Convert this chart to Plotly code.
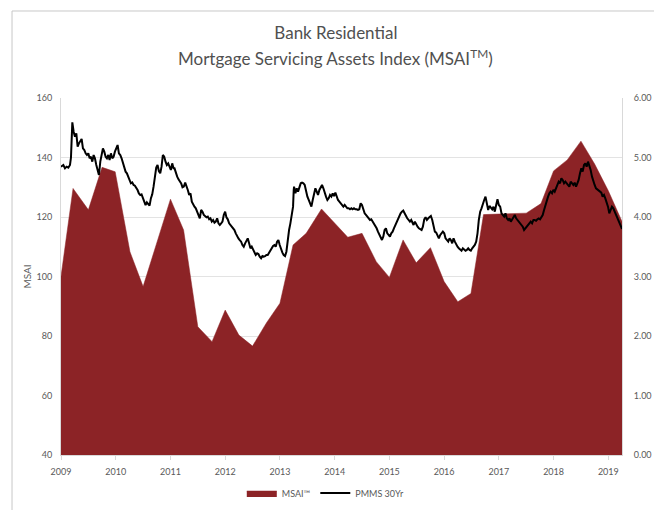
import plotly.graph_objects as go

# MSAI (left axis), x as decimal year
msai_x = [2009.00, 2009.22, 2009.50, 2009.75, 2009.99, 2010.26, 2010.50, 2010.75, 2011.00,
          2011.24, 2011.50, 2011.76, 2012.00, 2012.25, 2012.50, 2012.75, 2013.00, 2013.24,
          2013.48, 2013.76, 2014.00, 2014.24, 2014.50, 2014.76, 2015.00, 2015.25, 2015.49,
          2015.75, 2016.00, 2016.25, 2016.49, 2016.72, 2017.00, 2017.50, 2017.77, 2018.00,
          2018.25, 2018.50, 2018.75, 2019.00, 2019.25]
msai_y = [100.0, 129.6, 122.4, 136.7, 135.2, 108.3, 96.6, 111.5, 126.0,
          115.6, 83.1, 78.1, 88.7, 80.3, 76.6, 84.3, 91.0, 110.6,
          114.5, 122.7, 117.9, 113.2, 114.5, 105.0, 99.7, 112.3, 104.6,
          109.7, 98.3, 91.5, 94.3, 120.8, 121.0, 121.3, 124.5, 135.5,
          139.2, 145.5, 137.8, 128.8, 118.5]

# PMMS 30Yr (right axis)
pmms_x = [2009.000, 2009.043, 2009.073, 2009.103, 2009.134, 2009.164, 2009.182, 2009.207, 2009.231,
          2009.255, 2009.280, 2009.304, 2009.328, 2009.353, 2009.377, 2009.401, 2009.426, 2009.450,
          2009.474, 2009.499, 2009.523, 2009.547, 2009.572, 2009.596, 2009.620, 2009.645, 2009.669,
          2009.693, 2009.718, 2009.742, 2009.766, 2009.791, 2009.815, 2009.839, 2009.864, 2009.888,
          2009.912, 2009.937, 2009.961, 2009.985, 2010.010, 2010.034, 2010.058, 2010.083, 2010.107,
          2010.131, 2010.156, 2010.180, 2010.204, 2010.229, 2010.253, 2010.277, 2010.302, 2010.326,
          2010.350, 2010.375, 2010.399, 2010.423, 2010.448, 2010.472, 2010.496, 2010.521, 2010.545,
          2010.569, 2010.594, 2010.618, 2010.642, 2010.667, 2010.691, 2010.715, 2010.740, 2010.764,
          2010.788, 2010.813, 2010.837, 2010.861, 2010.886, 2010.910, 2010.934, 2010.959, 2010.983,
          2011.007, 2011.032, 2011.056,
          2011.074, 2011.099, 2011.123, 2011.147, 2011.171, 2011.196, 2011.220, 2011.244, 2011.269,
          2011.293, 2011.317, 2011.342, 2011.366, 2011.390, 2011.415, 2011.439, 2011.463, 2011.488,
          2011.512, 2011.536, 2011.561, 2011.585, 2011.609, 2011.634, 2011.658, 2011.682, 2011.707,
          2011.731, 2011.755, 2011.780, 2011.804, 2011.828, 2011.853, 2011.877, 2011.901, 2011.926,
          2011.950, 2011.974, 2011.999, 2012.023, 2012.047, 2012.072, 2012.096, 2012.120, 2012.145,
          2012.169, 2012.193, 2012.218, 2012.242, 2012.266, 2012.291, 2012.315, 2012.339, 2012.364,
          2012.388, 2012.412, 2012.437, 2012.461, 2012.485, 2012.510, 2012.534, 2012.558, 2012.583,
          2012.607, 2012.631, 2012.656, 2012.680, 2012.704, 2012.729, 2012.753, 2012.777, 2012.802,
          2012.826, 2012.850, 2012.875, 2012.899, 2012.923, 2012.948, 2012.972, 2012.996, 2013.021,
          2013.045, 2013.069, 2013.094, 2013.118, 2013.142, 2013.167, 2013.191, 2013.215, 2013.240,
          2013.252,
          2013.258, 2013.283, 2013.307, 2013.331, 2013.356, 2013.380, 2013.404, 2013.429, 2013.453,
          2013.477, 2013.502, 2013.526, 2013.550, 2013.575, 2013.599, 2013.623, 2013.648, 2013.672,
          2013.696, 2013.721, 2013.745, 2013.769, 2013.794, 2013.818, 2013.842, 2013.867, 2013.891,
          2013.915, 2013.940, 2013.964, 2013.988, 2014.013, 2014.037, 2014.061, 2014.086, 2014.110,
          2014.134, 2014.159, 2014.183, 2014.207, 2014.232, 2014.256, 2014.280, 2014.305, 2014.329,
          2014.353, 2014.378, 2014.402, 2014.426, 2014.450, 2014.475, 2014.499, 2014.524, 2014.548,
          2014.572, 2014.597, 2014.621, 2014.645, 2014.669, 2014.694, 2014.718, 2014.742, 2014.767,
          2014.791, 2014.815, 2014.840, 2014.864, 2014.888, 2014.913, 2014.937, 2014.961, 2014.986,
          2015.010, 2015.034, 2015.059, 2015.083, 2015.107, 2015.132, 2015.156, 2015.180, 2015.205,
          2015.229, 2015.253, 2015.278, 2015.302, 2015.326, 2015.351, 2015.375, 2015.399, 2015.424,
          2015.442, 2015.466, 2015.491, 2015.515, 2015.539, 2015.564, 2015.588, 2015.612, 2015.637,
          2015.661, 2015.685, 2015.710, 2015.734, 2015.758, 2015.783, 2015.807, 2015.831, 2015.856,
          2015.880, 2015.904, 2015.929, 2015.953, 2015.977, 2016.002, 2016.026, 2016.050, 2016.075,
          2016.099, 2016.123, 2016.148, 2016.172, 2016.196, 2016.221, 2016.245, 2016.269, 2016.294,
          2016.318, 2016.342, 2016.367, 2016.391, 2016.415, 2016.440, 2016.464, 2016.488, 2016.513,
          2016.537, 2016.561, 2016.586, 2016.610, 2016.634, 2016.659, 2016.683, 2016.707, 2016.732,
          2016.756, 2016.780, 2016.805, 2016.829, 2016.853, 2016.878, 2016.902, 2016.926, 2016.951,
          2016.975, 2016.999, 2017.024, 2017.048, 2017.072, 2017.097, 2017.121, 2017.145, 2017.170,
          2017.194, 2017.218, 2017.243, 2017.267, 2017.291, 2017.316, 2017.340, 2017.364, 2017.388,
          2017.413, 2017.437, 2017.461, 2017.486, 2017.510, 2017.534, 2017.559, 2017.583, 2017.607,
          2017.632,
          2017.655, 2017.680, 2017.704, 2017.728, 2017.753, 2017.777, 2017.801, 2017.826, 2017.850,
          2017.874, 2017.899, 2017.923, 2017.947, 2017.972, 2017.996, 2018.020, 2018.045, 2018.069,
          2018.093, 2018.118, 2018.142, 2018.166, 2018.191, 2018.215, 2018.239, 2018.264, 2018.288,
          2018.312, 2018.337, 2018.361, 2018.385, 2018.410, 2018.434, 2018.458, 2018.483, 2018.507,
          2018.531, 2018.556, 2018.580, 2018.604, 2018.629, 2018.653, 2018.677, 2018.702, 2018.726,
          2018.750, 2018.775, 2018.799, 2018.823, 2018.848, 2018.872, 2018.896, 2018.921, 2018.945,
          2018.969, 2018.994, 2019.018, 2019.042, 2019.066, 2019.091, 2019.115, 2019.139, 2019.164,
          2019.188, 2019.212, 2019.237, 2019.250]
pmms_y = [4.846, 4.874, 4.818, 4.846, 4.829, 4.874, 4.997, 5.591, 5.434,
          5.350, 5.406, 5.182, 5.238, 5.266, 5.311, 5.154, 5.126, 5.070,
          5.042, 5.070, 4.986, 5.014, 4.930, 5.042, 4.986, 4.874, 4.790,
          4.706, 4.930, 5.070, 5.154, 5.098, 5.014, 4.986, 5.042, 4.958,
          5.070, 4.986, 5.014, 5.098, 5.154, 5.210, 5.070, 5.042, 4.986,
          4.902, 4.818, 4.762, 4.734, 4.678, 4.650, 4.566, 4.582, 4.538,
          4.526, 4.493, 4.453, 4.397, 4.369, 4.381, 4.325, 4.257, 4.201,
          4.246, 4.213, 4.190, 4.313, 4.381, 4.510, 4.706, 4.829, 4.874,
          4.773, 4.734, 4.846, 5.042, 5.014, 4.930, 4.874, 4.902, 4.846,
          4.790, 4.902, 4.818,
          4.818, 4.734, 4.678, 4.633, 4.594, 4.566, 4.498, 4.510, 4.577,
          4.521, 4.454, 4.370, 4.398, 4.258, 4.202, 4.174, 4.146, 4.090,
          4.034, 3.977, 4.118, 4.090, 4.034, 4.006, 3.994, 4.006, 3.961,
          3.978, 3.922, 3.950, 3.905, 3.922, 3.978, 3.893, 3.865, 3.893,
          3.922, 4.034, 4.090, 3.994, 3.961, 3.893, 3.865, 3.826, 3.809,
          3.781, 3.725, 3.669, 3.641, 3.613, 3.585, 3.529, 3.501, 3.557,
          3.613, 3.641, 3.557, 3.473, 3.501, 3.445, 3.401, 3.361, 3.389,
          3.378, 3.333, 3.305, 3.344, 3.333, 3.344, 3.361, 3.361, 3.401,
          3.417, 3.473, 3.513, 3.529, 3.501, 3.585, 3.613, 3.529, 3.445,
          3.401, 3.361, 3.344, 3.417, 3.613, 3.781, 3.893, 4.006, 4.174,
          4.454,
          4.510, 4.398, 4.482, 4.426, 4.510, 4.566, 4.577, 4.566, 4.538,
          4.426, 4.342, 4.286, 4.230, 4.174, 4.286, 4.398, 4.482, 4.426,
          4.370, 4.454, 4.510, 4.538, 4.482, 4.398, 4.342, 4.286, 4.314,
          4.370, 4.342, 4.398, 4.353, 4.409, 4.342, 4.286, 4.258, 4.230,
          4.185, 4.174, 4.202, 4.174, 4.146, 4.146, 4.129, 4.146, 4.129,
          4.146, 4.129, 4.129, 4.118, 4.129, 4.230, 4.202, 4.118, 4.062,
          4.034, 4.006, 3.978, 3.950, 3.961, 3.922, 3.894, 3.838, 3.810,
          3.754, 3.698, 3.642, 3.614, 3.670, 3.782, 3.810, 3.726, 3.698,
          3.670, 3.726, 3.754, 3.810, 3.866, 3.894, 3.950, 4.034, 4.062,
          4.090, 4.107, 4.062, 4.006, 3.978, 3.950, 3.922, 3.950, 3.894,
          3.866, 3.922, 3.866, 3.838, 3.810, 3.793, 3.782, 3.838, 3.961,
          3.995, 3.950, 3.978, 4.006, 4.017, 3.950, 3.838, 3.754, 3.737,
          3.670, 3.642, 3.698, 3.726, 3.754, 3.726, 3.642, 3.614, 3.586,
          3.642, 3.614, 3.558, 3.642, 3.586, 3.530, 3.502, 3.474, 3.446,
          3.434, 3.474, 3.446, 3.434, 3.446, 3.474, 3.446, 3.434, 3.474,
          3.502, 3.530, 3.586, 3.726, 3.950, 4.090, 4.146, 4.230, 4.286,
          4.342, 4.202, 4.118, 4.185, 4.146, 4.129, 4.174, 4.090, 4.202,
          4.297, 4.202, 4.174, 4.062, 4.034, 4.006, 4.062, 3.978, 3.950,
          3.978, 3.922, 3.961, 4.006, 4.034, 3.978, 3.950, 3.922, 3.894,
          3.866, 3.838, 3.782, 3.810, 3.838, 3.866, 3.894, 3.922, 3.894,
          3.950,
          3.949, 3.938, 3.961, 3.977, 3.961, 3.994, 4.034, 4.118, 4.202,
          4.286, 4.342, 4.398, 4.426, 4.398, 4.454, 4.426, 4.482, 4.566,
          4.594, 4.566, 4.650, 4.622, 4.566, 4.594, 4.566, 4.538, 4.510,
          4.594, 4.566, 4.538, 4.577, 4.510, 4.566, 4.622, 4.734, 4.818,
          4.762, 4.874, 4.902, 4.846, 4.930, 4.874, 4.790, 4.678, 4.594,
          4.538, 4.482, 4.465, 4.454, 4.426, 4.409, 4.342, 4.370, 4.314,
          4.258, 4.174, 4.062, 4.118, 4.174, 4.146, 4.090, 4.034, 3.977,
          3.921, 3.893, 3.837, 3.800]

year_ticks = [2009, 2010, 2011, 2012, 2013, 2014, 2015, 2016, 2017, 2018, 2019]
year_labels = [str(y) for y in year_ticks]
left_ticks = [40, 60, 80, 100, 120, 140, 160]
right_ticks = [0, 1, 2, 3, 4, 5, 6]
right_labels = ["0.00", "1.00", "2.00", "3.00", "4.00", "5.00", "6.00"]

title_line1 = "Bank Residential"
title_line2 = "Mortgage Servicing Assets Index (MSAI<sup>TM</sup>)"

FONT = "Lato, Open Sans, sans-serif"
GREY = "#595959"
RED = "#8c2326"

fig = go.Figure()
fig.add_trace(go.Scatter(
    x=msai_x, y=msai_y, name="MSAI™", mode="lines",
    line=dict(color=RED, width=0.5), fill="tozeroy", fillcolor=RED,
    yaxis="y"))
fig.add_trace(go.Scatter(
    x=pmms_x, y=pmms_y, name="PMMS 30Yr", mode="lines",
    line=dict(color="black", width=2), yaxis="y2"))

fig.update_layout(
    width=654, height=510,
    margin=dict(l=61, r=32, t=98, b=55, autoexpand=False),
    paper_bgcolor="white", plot_bgcolor="white",
    font=dict(family=FONT, color=GREY, size=9),
    title=dict(
        text=title_line1,
        x=0.49, xanchor="center", xref="paper",
        y=1 - 33 / 510, yanchor="middle", yref="container",
        font=dict(family=FONT, size=17, color="#505050")),
    annotations=[dict(
        text=title_line2, x=0.49, xanchor="center", xref="paper",
        y=1 + 40 / 357, yanchor="middle", yref="paper",
        showarrow=False, font=dict(family=FONT, size=17, color="#505050"))],
    xaxis=dict(
        range=[2009, 2019.25], tickvals=year_ticks, ticktext=year_labels,
        showgrid=False, zeroline=False, showline=True, linecolor="#d9d9d9",
        ticks="outside", ticklen=4, tickcolor="#d9d9d9", ticklabelstandoff=4,
        tickfont=dict(size=9, color=GREY), mirror=False, automargin=False),
    yaxis=dict(
        range=[40, 160], tickvals=left_ticks, showgrid=True, gridcolor="#e3e3e3",
        zeroline=False, showline=True, linecolor="#d9d9d9", automargin=False,
        title=dict(text="MSAI", font=dict(size=10, color=GREY), standoff=3),
        tickfont=dict(size=9, color=GREY), ticks="", ticklabelstandoff=6),
    yaxis2=dict(
        range=[0, 6], tickvals=right_ticks, ticktext=right_labels,
        overlaying="y", side="right", showgrid=False, zeroline=False,
        showline=True, linecolor="#d9d9d9", automargin=False,
        tickfont=dict(size=9, color=GREY), ticklabelstandoff=9),
    legend=dict(
        orientation="h", x=0.472, xanchor="center",
        y=(510 - 493) / 510, yanchor="middle", yref="container",
        font=dict(size=9, color=GREY), bgcolor="rgba(0,0,0,0)",
        itemwidth=30, tracegroupgap=0),
    showlegend=True,
    shapes=[
        dict(type="line", xref="paper", yref="paper", x0=-0.0873, x1=1.2,
             y0=1.2437, y1=1.2437, line=dict(color="#c8c8c8", width=1)),
        dict(type="line", xref="paper", yref="paper", x0=-0.0873, x1=-0.0873,
             y0=1.2437, y1=-0.2, line=dict(color="#c8c8c8", width=1)),
    ],
)

fig.write_html("out.html")
